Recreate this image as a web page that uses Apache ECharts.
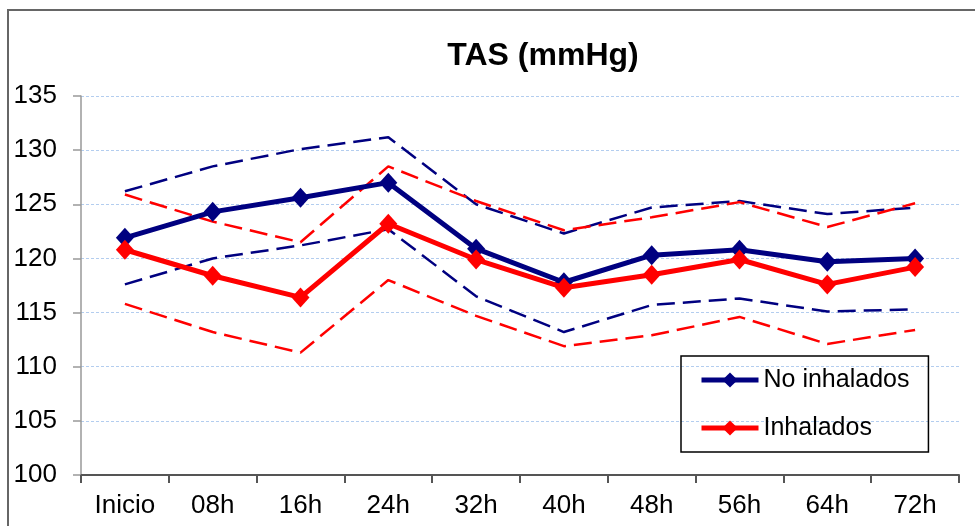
<!DOCTYPE html>
<html>
<head>
<meta charset="utf-8">
<script src="https://cdn.jsdelivr.net/npm/echarts@6/dist/echarts.min.js"></script>
<style>
    html, body { margin: 0; padding: 0; background: #fff; }
    #ET1 { width: 975px; height: 526px; }
</style>
</head>
<body>
<div id="ET1"></div>
<script>
var categories = ['Inicio', '08h', '16h', '24h', '32h', '40h', '48h', '56h', '64h', '72h'];
var yTicks = [100, 105, 110, 115, 120, 125, 130, 135];

// medias
var noInhalados = [121.9, 124.3, 125.6, 127.0, 120.9, 117.8, 120.3, 120.8, 119.7, 120.0];
var inhalados = [120.8, 118.4, 116.4, 123.2, 119.9, 117.3, 118.5, 119.9, 117.6, 119.2];

// intervalos (lineas discontinuas)
var noInhaladosSup = [126.2, 128.5, 130.1, 131.2, 125.0, 122.3, 124.7, 125.3, 124.1, 124.7];
var noInhaladosInf = [117.6, 120.0, 121.2, 122.7, 116.5, 113.2, 115.7, 116.3, 115.1, 115.3];
var inhaladosSup = [125.9, 123.4, 121.5, 128.5, 125.3, 122.6, 123.8, 125.2, 122.9, 125.1];
var inhaladosInf = [115.8, 113.2, 111.3, 118.0, 114.7, 111.9, 112.9, 114.6, 112.1, 113.4];

~function () {
    var myChart = echarts.init(ET1);
    var font = '"Liberation Sans", Arial, sans-serif';
    var BLUE = '#000080';
    var RED = '#ff0000';

    function dashed(name, data, color) {
        return {
            name: name,
            type: 'line',
            data: data,
            symbol: 'none',
            silent: true,
            z: 1,
            lineStyle: {color: color, width: 2.5, type: [18, 8]}
        };
    }

    var option = {
        animation: false,
        backgroundColor: '#fff',
        textStyle: {fontFamily: font},
        title: {
            text: 'TAS (mmHg)',
            left: 538,
            top: 32,
            textAlign: 'center',
            textStyle: {fontFamily: font, fontSize: 32, fontWeight: 'bold', color: '#000', lineHeight: 38}
        },
        legend: {
            data: ['No inhalados', 'Inhalados'],
            orient: 'vertical',
            left: 681,
            top: 356,
            padding: [10, 19, 10, 18],
            itemGap: 20,
            itemWidth: 57,
            itemHeight: 19,
            borderColor: '#000',
            borderWidth: 1.5,
            borderRadius: 0,
            lineStyle: {width: 5},
            textStyle: {fontFamily: font, fontSize: 25, color: '#000', lineHeight: 28}
        },
        graphic: [{
            type: 'rect',
            shape: {x: 8, y: 10, width: 980, height: 530},
            style: {fill: 'none', stroke: '#666', lineWidth: 2},
            silent: true
        }],
        grid: {left: 81, right: 16, top: 96, bottom: 51},
        xAxis: {
            type: 'category',
            data: categories,
            boundaryGap: true,
            axisLine: {lineStyle: {color: '#555', width: 2}},
            axisTick: {show: true, length: 8, alignWithLabel: false, lineStyle: {color: '#555', width: 2}},
            axisLabel: {fontFamily: font, fontSize: 26, color: '#000', margin: 18}
        },
        yAxis: {
            type: 'value',
            min: yTicks[0],
            max: yTicks[yTicks.length - 1],
            interval: 5,
            axisLine: {show: true, lineStyle: {color: '#999', width: 1.5}},
            axisTick: {show: true, length: 8, lineStyle: {color: '#999', width: 1.5}},
            axisLabel: {fontFamily: font, fontSize: 26, color: '#000', margin: 24},
            splitLine: {show: true, lineStyle: {color: '#b3cdef', width: 1, type: [3, 2]}}
        },
        series: [
            dashed('No inhalados sup', noInhaladosSup, BLUE),
            dashed('No inhalados inf', noInhaladosInf, BLUE),
            dashed('Inhalados sup', inhaladosSup, RED),
            dashed('Inhalados inf', inhaladosInf, RED),
            {
                name: 'No inhalados',
                type: 'line',
                data: noInhalados,
                symbol: 'diamond',
                symbolSize: [18, 20],
                z: 3,
                itemStyle: {color: BLUE},
                lineStyle: {color: BLUE, width: 5}
            },
            {
                name: 'Inhalados',
                type: 'line',
                data: inhalados,
                symbol: 'diamond',
                symbolSize: [18, 20],
                z: 4,
                itemStyle: {color: RED},
                lineStyle: {color: RED, width: 5}
            }
        ]
    };
    myChart.setOption(option);
}();
</script>
</body>
</html>
